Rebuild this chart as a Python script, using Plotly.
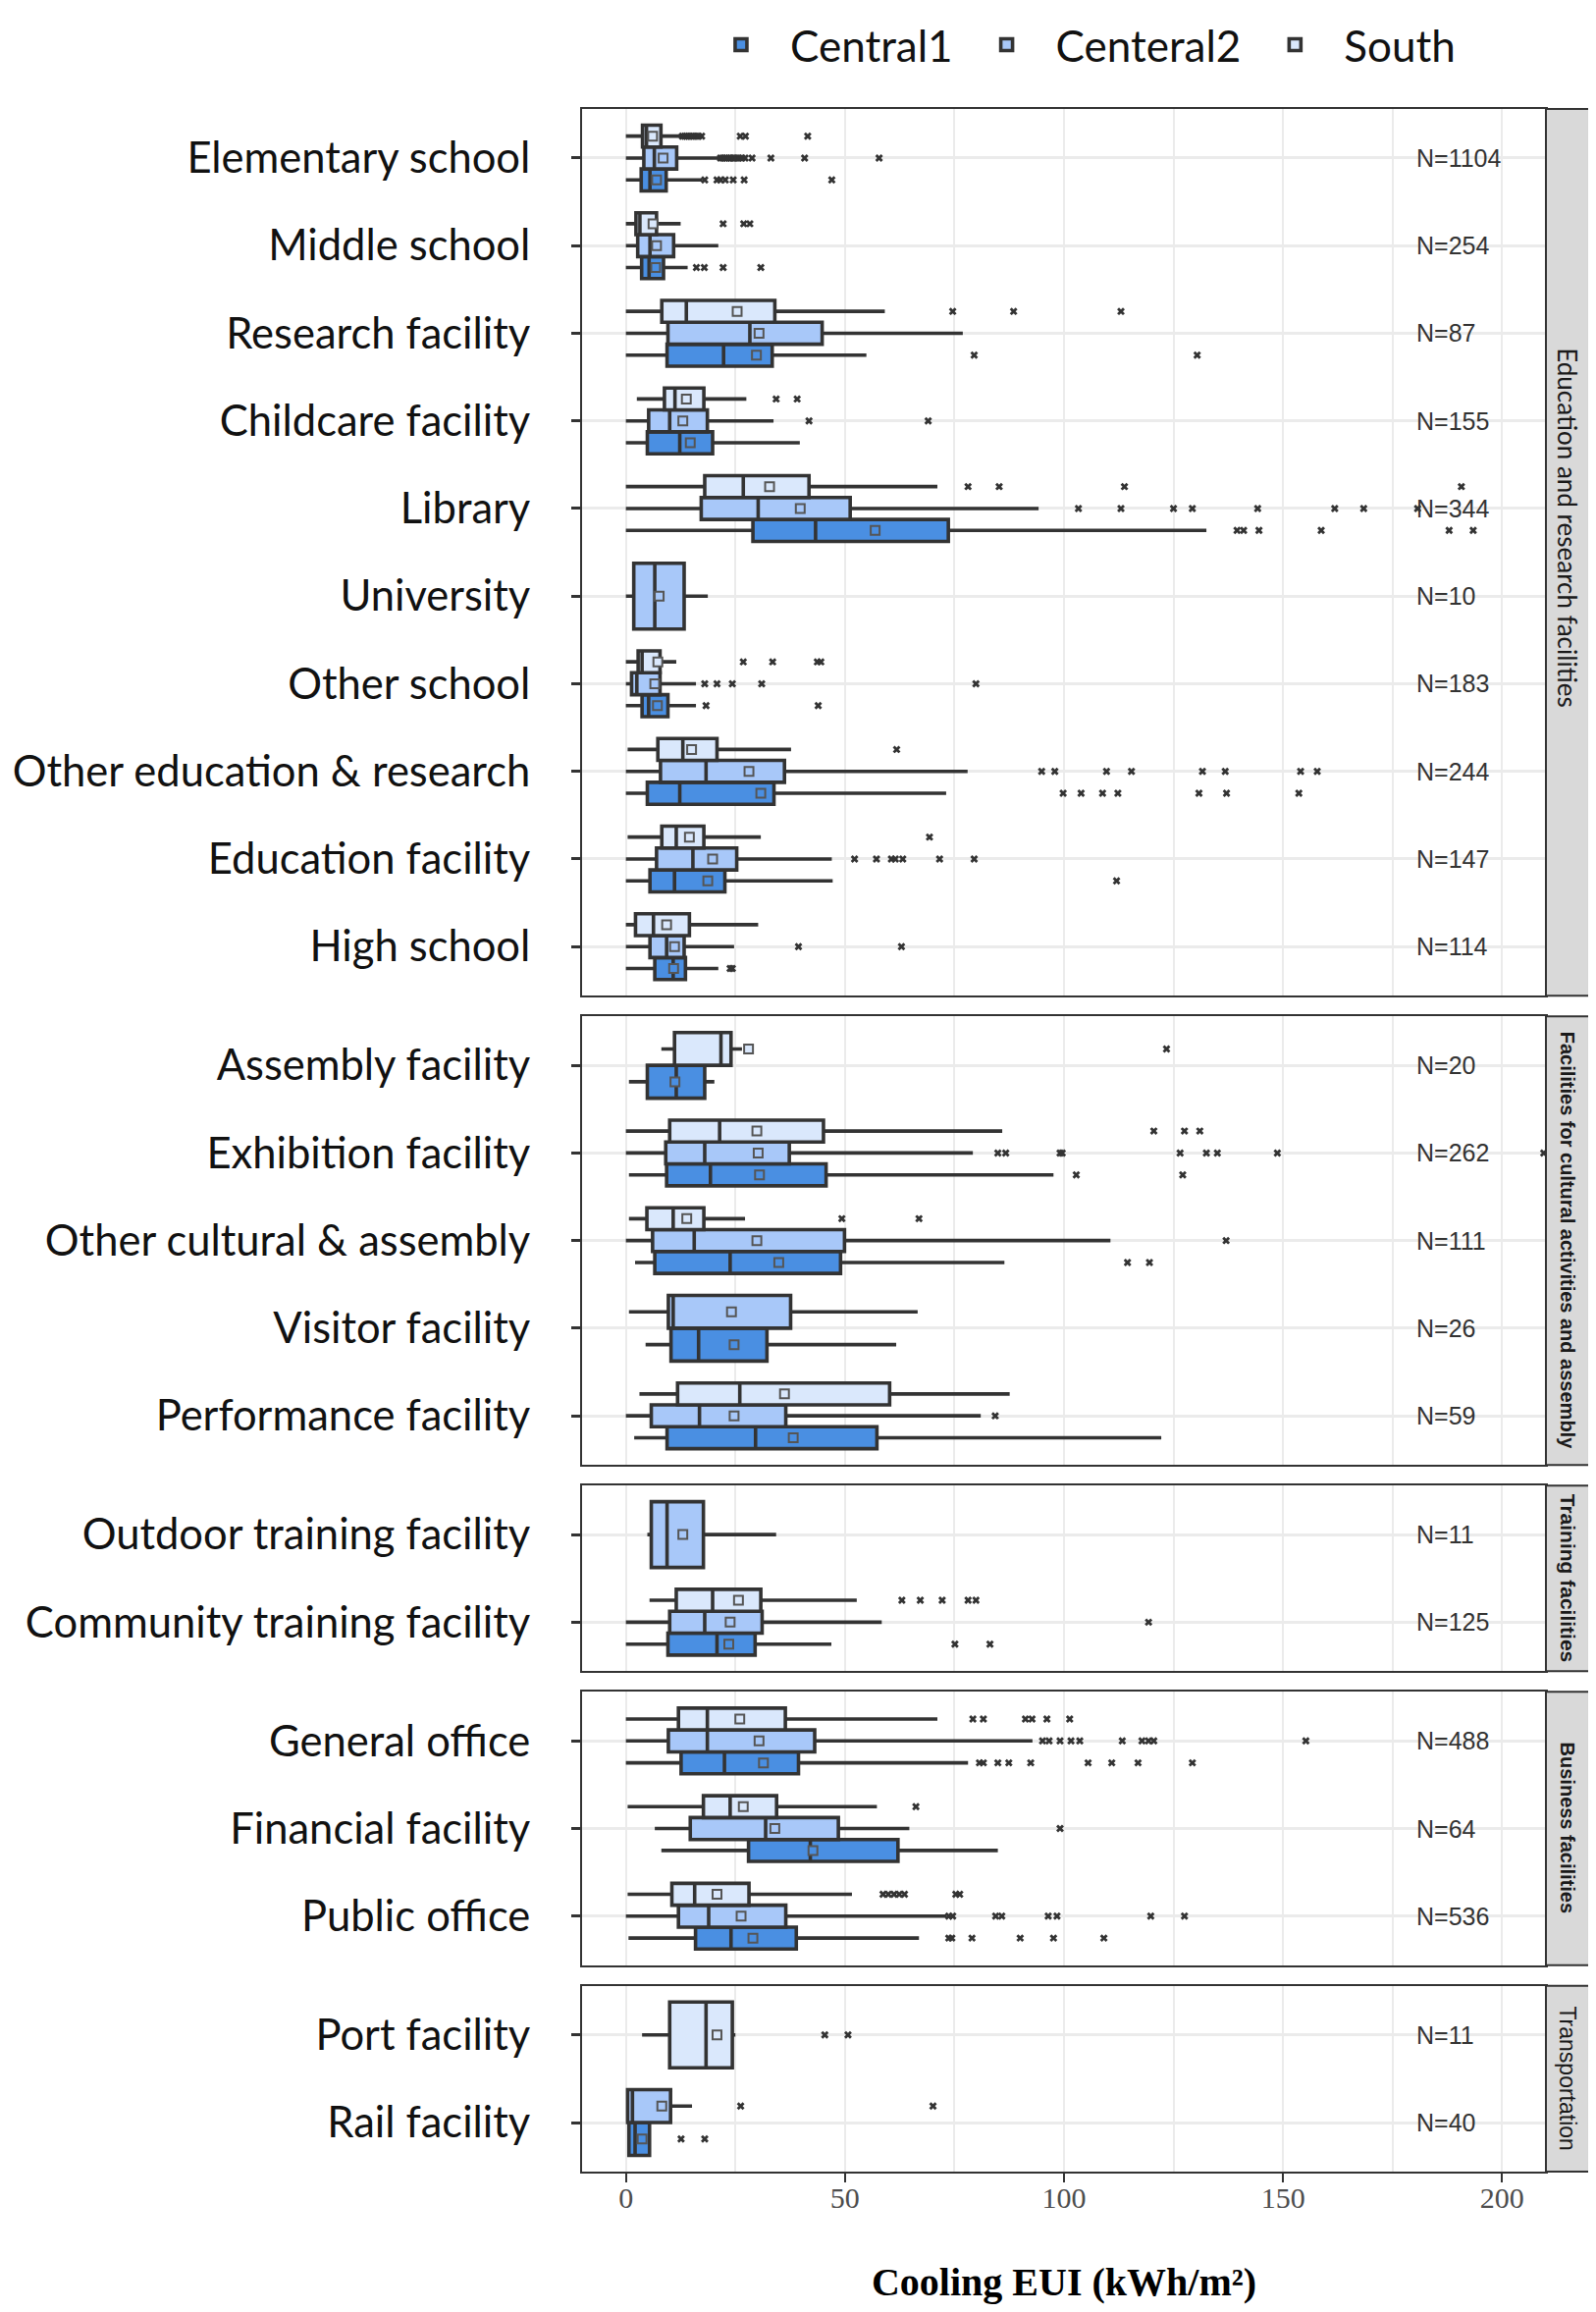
import plotly.graph_objects as go
from plotly.subplots import make_subplots

# --- data -------------------------------------------------------------------
FACETS = [
    "Education and research facilities",
    "Facilities for cultural activities and assembly",
    "Training facilities",
    "Business facilities",
    "Transportation",
]
FACET_SIZES = [10, 5, 2, 3, 2]

CATEGORIES = [
    "Elementary school", "Middle school", "Research facility", "Childcare facility",
    "Library", "University", "Other school", "Other education & research",
    "Education facility", "High school",
    "Assembly facility", "Exhibition facility", "Other cultural & assembly",
    "Visitor facility", "Performance facility",
    "Outdoor training facility", "Community training facility",
    "General office", "Financial facility", "Public office",
    "Port facility", "Rail facility",
]
N_COUNTS = [1104, 254, 87, 155, 344, 10, 183, 244, 147, 114,
            20, 262, 111, 26, 59, 11, 125, 488, 64, 536, 11, 40]

GROUPS = ["Central1", "Centeral2", "South"]
COLORS = {"Central1": "#4A8FE2", "Centeral2": "#A8C8F9", "South": "#DAE8FC"}

# Central1: whisker low, q1, median, q3, whisker high, mean, outliers
C1_LOW = [0, 0, 0, 0, 0, None, 0, 0, 0, 0, 0.7, 0.7, 2.1, 4.5, 1.9, None, 0, 0, 8.1, 0.6, None, 0.3]
C1_Q1 = [3.5, 3.6, 9.4, 4.9, 29.0, None, 3.7, 4.9, 5.5, 6.6, 4.9, 9.3, 6.6, 10.3, 9.4, None, 9.6, 12.6, 28.0, 15.9, None, 0.7]
C1_MED = [5.5, 5.3, 22.3, 12.3, 43.3, None, 5.2, 12.3, 11.1, 10.8, 11.5, 19.3, 23.8, 16.6, 29.6, None, 20.8, 22.5, 42.1, 24.0, None, 2.1]
C1_Q3 = [9.2, 8.6, 33.4, 19.8, 73.6, None, 9.6, 33.8, 22.6, 13.6, 18.0, 45.7, 49.0, 32.2, 57.3, None, 29.5, 39.4, 62.1, 38.9, None, 5.4]
C1_HIGH = [17.5, 14.1, 54.9, 39.7, 132.5, None, 16.0, 73.1, 47.2, 21.1, 20.2, 97.6, 86.4, 61.7, 122.2, None, 46.9, 78.1, 84.9, 66.9, None, 5.8]
C1_MEAN = [7.0, 6.8, 29.8, 14.7, 56.9, None, 7.2, 30.8, 18.7, 10.9, 11.2, 30.5, 34.9, 24.7, 38.2, None, 23.5, 31.4, 42.7, 29.0, None, 3.7]
C1_OUT = [
    [18.0, 20.8, 21.6, 22.7, 24.5, 27.0, 47.0],
    [16.1, 17.9, 22.2, 30.8],
    [79.5, 130.4],
    [],
    [139.5, 141.0, 144.5, 158.7, 187.9, 193.4],
    [],
    [18.3, 43.9],
    [99.8, 103.9, 108.8, 112.3, 130.8, 137.1, 153.6],
    [112.0],
    [23.8, 24.3],
    [],
    [102.8, 127.1],
    [114.5, 119.5],
    [],
    [],
    [],
    [75.1, 83.1],
    [80.7, 81.6, 84.9, 87.4, 92.4, 105.5, 110.9, 116.9, 129.3],
    [],
    [73.7, 74.4, 79.0, 90.0, 97.6, 109.1],
    [],
    [12.6, 18.0],
]

# Centeral2
C2_LOW = [0, 0, 0, 0, 0, 0, 0, 0, 0, 0, None, 0, 0, 0.7, 0, 4.9, 0, 0, 6.6, 0, None, 0.3]
C2_Q1 = [4.1, 2.7, 9.6, 5.2, 17.2, 1.8, 1.3, 7.9, 7.0, 5.5, None, 9.1, 6.1, 9.7, 5.8, 5.8, 10.0, 9.7, 14.7, 12.0, None, 0.4]
C2_MED = [6.5, 5.5, 28.3, 10.0, 30.2, 6.6, 2.5, 18.3, 15.3, 9.3, None, 18.0, 15.6, 10.8, 16.8, 9.4, 18.0, 18.6, 31.9, 18.9, None, 1.5]
C2_Q3 = [11.6, 10.9, 44.8, 18.6, 51.2, 13.3, 7.8, 36.2, 25.3, 13.3, None, 37.3, 49.9, 37.6, 36.5, 17.7, 31.1, 43.1, 48.5, 36.5, None, 10.2]
C2_HIGH = [21.2, 21.1, 76.9, 33.7, 94.2, 18.7, 16.0, 78.0, 47.0, 24.7, None, 79.2, 110.6, 66.6, 81.0, 34.3, 58.4, 92.8, 64.7, 73.2, None, 15.1]
C2_MEAN = [8.5, 7.0, 30.4, 13.0, 39.8, 7.6, 6.6, 28.1, 19.8, 11.1, None, 30.2, 29.9, 24.1, 24.7, 13.0, 23.8, 30.4, 34.0, 26.3, None, 8.2]
C2_OUT = [
    [21.6, 22.1, 22.6, 23.0, 23.5, 24.0, 24.6, 25.2, 25.8, 26.5, 27.2, 28.8, 33.1, 40.8, 57.8],
    [],
    [],
    [41.8, 69.0],
    [103.3, 113.0, 125.0, 129.3, 144.2, 161.8, 168.4, 180.7],
    [],
    [18.0, 20.8, 24.3, 31.0, 79.9],
    [94.9, 97.9, 109.7, 115.4, 131.6, 136.8, 154.0, 157.8],
    [52.2, 57.2, 60.6, 61.5, 63.2, 71.6, 79.5],
    [39.4, 62.9],
    [],
    [84.9, 86.7, 99.1, 99.6, 126.5, 132.5, 135.0, 148.7, 209.5],
    [137.0],
    [],
    [84.3],
    [],
    [119.3],
    [95.1, 96.6, 99.1, 101.6, 103.6, 113.3, 117.8, 119.3, 120.5, 155.2],
    [99.1],
    [73.7, 74.6, 84.4, 85.8, 96.4, 98.4, 119.8, 127.5],
    [],
    [26.2, 70.1],
]

# South
S_LOW = [0, 0, 0, 2.5, 0, None, 0, 0.4, 0.4, 0, 8.1, 0, 0.7, None, 3.1, None, 5.4, 0, 0.4, 0.4, 3.7, None]
S_Q1 = [3.8, 2.3, 8.2, 8.8, 18.0, None, 2.8, 7.3, 8.2, 2.2, 11.1, 10.0, 4.8, None, 11.8, None, 11.5, 12.0, 17.7, 10.5, 10.0, None]
S_MED = [4.7, 3.2, 13.8, 11.2, 26.8, None, 3.7, 13.0, 11.5, 6.3, 21.7, 21.4, 10.8, None, 26.0, None, 19.8, 18.6, 23.8, 15.7, 18.3, None]
S_Q3 = [8.0, 7.0, 34.0, 17.8, 41.8, None, 7.8, 20.8, 17.8, 14.5, 24.0, 45.1, 17.8, None, 60.2, None, 30.8, 36.4, 34.4, 28.1, 24.3, None]
S_HIGH = [12.6, 12.5, 59.1, 27.5, 71.1, None, 11.5, 37.7, 30.8, 30.2, 26.5, 85.9, 27.2, None, 87.6, None, 52.7, 71.1, 57.3, 51.6, 25.0, None]
S_MEAN = [6.1, 6.2, 25.4, 13.8, 32.8, None, 7.3, 15.0, 14.5, 9.3, 28.0, 29.9, 13.9, None, 36.2, None, 25.7, 26.0, 26.8, 20.8, 20.8, None]
S_OUT = [
    [12.9, 13.4, 13.9, 14.4, 14.9, 15.4, 16.0, 16.6, 17.3, 26.1, 27.3, 41.5],
    [22.2, 26.9, 28.3],
    [74.6, 88.5, 113.0],
    [34.3, 39.1],
    [78.1, 85.2, 113.8, 190.7],
    [],
    [26.8, 33.5, 43.7, 44.5],
    [61.8],
    [69.3],
    [],
    [123.4],
    [120.5, 127.5, 131.0],
    [49.3, 66.9],
    [],
    [],
    [],
    [63.0, 67.2, 72.2, 78.1, 79.9],
    [79.2, 81.6, 91.2, 92.7, 96.1, 101.3],
    [66.2],
    [58.7, 59.9, 61.2, 62.4, 63.6, 75.3, 76.2],
    [45.4, 50.7],
    [],
]

STATS = {
    "Central1": (C1_LOW, C1_Q1, C1_MED, C1_Q3, C1_HIGH, C1_MEAN, C1_OUT),
    "Centeral2": (C2_LOW, C2_Q1, C2_MED, C2_Q3, C2_HIGH, C2_MEAN, C2_OUT),
    "South": (S_LOW, S_Q1, S_MED, S_Q3, S_HIGH, S_MEAN, S_OUT),
}

# --- figure -----------------------------------------------------------------
# the page body has an 8px margin, so the figure is 16px smaller than the window
W, H = 1610, 2339
M_L, M_R, M_T, M_B = 585, 43, 103, 135
EXPAND = 0.56

LABEL_FONT = "Lato, Open Sans, sans-serif"
SERIF = "Liberation Serif, Times New Roman, serif"
SANS = "Liberation Sans, Arial, sans-serif"
DARK = "#333333"
GRID = "#EBEBEB"

fig = make_subplots(
    rows=len(FACETS), cols=1, shared_xaxes=True,
    row_heights=[n + 2 * EXPAND - 1 for n in FACET_SIZES],
    vertical_spacing=21 / (H - M_T - M_B),
)

facet_of = []
for f, size in enumerate(FACET_SIZES):
    facet_of += [f] * size

legend_done = set()
for i, cat in enumerate(CATEGORIES):
    row = facet_of[i] + 1
    for g in GROUPS:
        low, q1, med, q3, high, mean, outs = STATS[g]
        if med[i] is None:
            continue
        fig.add_trace(go.Box(
            y=[cat], q1=[q1[i]], median=[med[i]], q3=[q3[i]],
            lowerfence=[low[i]], upperfence=[high[i]],
            orientation="h", name=g, legendgroup=g,
            showlegend=g not in legend_done,
            fillcolor=COLORS[g], line=dict(color=DARK, width=3.6),
            whiskerwidth=0, boxpoints=False,
            alignmentgroup=cat, offsetgroup=g, hoverinfo="skip",
        ), row=row, col=1)
        legend_done.add(g)
    for g in GROUPS:
        low, q1, med, q3, high, mean, outs = STATS[g]
        if med[i] is None:
            continue
        common = dict(
            orientation="h", legendgroup=g, showlegend=False,
            boxpoints="all", jitter=0, pointpos=0,
            fillcolor="rgba(0,0,0,0)", line=dict(width=0, color="rgba(0,0,0,0)"),
            whiskerwidth=0, alignmentgroup=cat, offsetgroup=g, hoverinfo="skip",
        )
        if outs[i]:
            fig.add_trace(go.Box(
                x=outs[i], y=[cat] * len(outs[i]),
                marker=dict(symbol="x", size=7, color=DARK), **common,
            ), row=row, col=1)
        fig.add_trace(go.Box(
            x=[mean[i]], y=[cat],
            marker=dict(symbol="square", size=9, color=COLORS[g],
                        line=dict(color="#555555", width=2)), **common,
        ), row=row, col=1)

# axes, N labels and strips per facet
STRIP_FONTS = [LABEL_FONT, SANS, SANS, SANS, SANS]
STRIP_SIZES = [26, 20, 21, 20, 23]
STRIP_Y = [0.528, 0.5, 0.5, 0.5, 0.5]
start = 0
for f, size in enumerate(FACET_SIZES):
    row = f + 1
    cats = CATEGORIES[start:start + size]
    fig.update_yaxes(
        type="category", categoryorder="array", categoryarray=cats[::-1],
        range=[-EXPAND, size - 1 + EXPAND],
        showgrid=True, gridcolor=GRID, gridwidth=3,
        showline=True, mirror=True, linecolor=DARK, linewidth=2,
        ticks="outside", ticklen=9, tickwidth=3, tickcolor=DARK,
        ticklabelstandoff=33, automargin=False,
        tickfont=dict(family=LABEL_FONT, size=43.5, color="#111111"),
        zeroline=False, row=row, col=1,
    )
    fig.update_xaxes(
        range=[-10, 210], dtick=50, tick0=0,
        showgrid=True, gridcolor=GRID, gridwidth=2,
        minor=dict(dtick=25, tick0=0, showgrid=True, gridcolor=GRID, gridwidth=1.5),
        showline=True, mirror=True, linecolor=DARK, linewidth=2,
        zeroline=False, automargin=False, row=row, col=1,
    )
    xref = "x" if row == 1 else f"x{row}"
    yref = "y" if row == 1 else f"y{row}"
    for cat, n in zip(cats, N_COUNTS[start:start + size]):
        fig.add_annotation(
            x=180, y=cat, xref=xref, yref=yref, text=f"N={n}",
            showarrow=False, xanchor="left",
            font=dict(family=SANS, size=25, color=DARK),
        )
    fig.add_shape(
        type="rect", xref="paper", yref=f"{yref} domain",
        x0=1.0, x1=1.0448, y0=0, y1=1,
        fillcolor="#D9D9D9", line=dict(color=DARK, width=2), layer="above",
    )
    strip_text = FACETS[f] if f in (0, 4) else f"<b>{FACETS[f]}</b>"
    fig.add_annotation(
        x=1.0224, y=STRIP_Y[f], xref="paper", yref=f"{yref} domain",
        xanchor="center", yanchor="middle",
        text=strip_text, textangle=90, showarrow=False,
        font=dict(family=STRIP_FONTS[f], size=STRIP_SIZES[f], color="#1A1A1A"),
    )
    start += size

last = len(FACETS)
fig.update_xaxes(
    ticks="outside", ticklen=9, tickwidth=2, tickcolor=DARK,
    ticklabelstandoff=-10,
    tickfont=dict(family=SERIF, size=30, color="#4D4D4D"),
    title=dict(text="<b>Cooling EUI (kWh/m²)</b>", standoff=58,
               font=dict(family=SERIF, size=40, color="#000000")),
    row=last, col=1,
)

fig.update_layout(
    width=W, height=H,
    margin=dict(l=M_L, r=M_R, t=M_T, b=M_B, autoexpand=False),
    paper_bgcolor="white", plot_bgcolor="white",
    boxmode="group", boxgap=0.25, boxgroupgap=0,
    legend=dict(
        orientation="h", x=0.114, xanchor="left", y=1.031, yanchor="middle",
        font=dict(family=LABEL_FONT, size=44, color="#111111"),
        itemwidth=90, traceorder="normal",
    ),
)

fig.write_html("out.html")
